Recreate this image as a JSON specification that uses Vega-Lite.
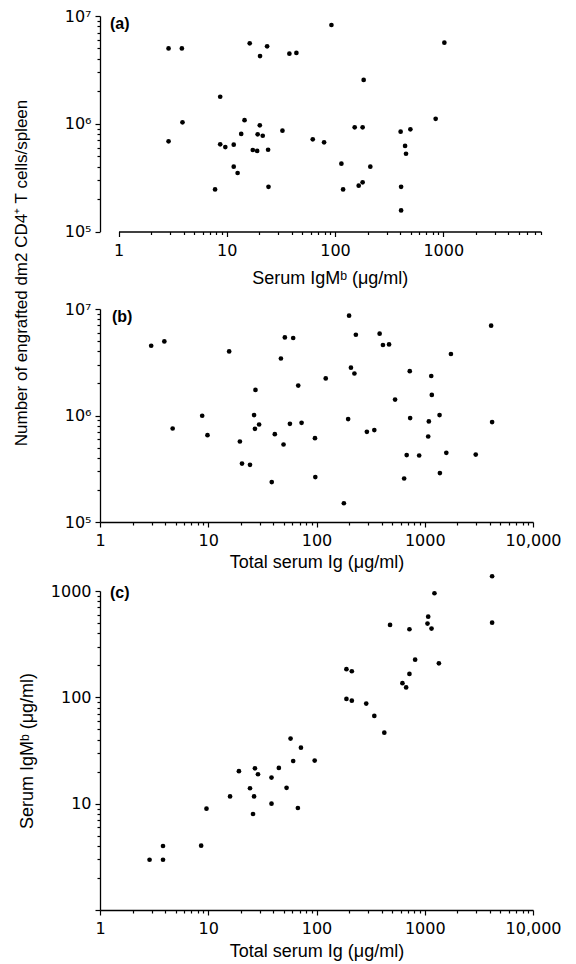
{
  "$schema": "https://vega.github.io/schema/vega-lite/v6.json",
  "background": "white",
  "padding": {"left": 11, "top": 8, "right": 5, "bottom": 5},
  "config": {
    "view": {"stroke": null},
    "font": "Liberation Sans",
    "axis": {
      "grid": false,
      "domainColor": "black",
      "domainWidth": 1.3,
      "tickColor": "black",
      "tickWidth": 1.2,
      "labelColor": "black",
      "titleColor": "black",
      "labelFont": "DejaVu Sans",
      "labelFontSize": 16,
      "titleFont": "Liberation Sans",
      "titleFontSize": 18,
      "titleFontWeight": "normal",
      "labelOverlap": false,
      "labelFlush": false
    },
    "title": {"font": "Liberation Sans", "fontSize": 16, "fontWeight": "bold", "color": "black"}
  },
  "datasets": {
    "a": [
      {"igm": 2.9, "cells": 5000000}, {"igm": 3.85, "cells": 5000000}, {"igm": 16.3, "cells": 5580000},
      {"igm": 23.6, "cells": 5230000}, {"igm": 20.3, "cells": 4250000}, {"igm": 37.9, "cells": 4470000},
      {"igm": 44, "cells": 4540000}, {"igm": 92.7, "cells": 8250000}, {"igm": 1024, "cells": 5650000},
      {"igm": 184, "cells": 2550000}, {"igm": 8.7, "cells": 1780000}, {"igm": 3.9, "cells": 1030000},
      {"igm": 2.9, "cells": 687000}, {"igm": 8.7, "cells": 644000}, {"igm": 9.7, "cells": 608000},
      {"igm": 11.6, "cells": 640000}, {"igm": 14.6, "cells": 1080000}, {"igm": 13.6, "cells": 804000},
      {"igm": 20.2, "cells": 967000}, {"igm": 19.3, "cells": 798000}, {"igm": 21.5, "cells": 774000},
      {"igm": 32.7, "cells": 862000}, {"igm": 17.4, "cells": 571000}, {"igm": 19.1, "cells": 559000},
      {"igm": 24.1, "cells": 574000}, {"igm": 11.6, "cells": 400000}, {"igm": 12.6, "cells": 349000},
      {"igm": 7.8, "cells": 246000}, {"igm": 24.3, "cells": 260000}, {"igm": 62.3, "cells": 717000},
      {"igm": 79.3, "cells": 673000}, {"igm": 114.6, "cells": 426000}, {"igm": 118.8, "cells": 246000},
      {"igm": 152, "cells": 927000}, {"igm": 180, "cells": 927000}, {"igm": 212, "cells": 400000},
      {"igm": 165.5, "cells": 266000}, {"igm": 180, "cells": 286000}, {"igm": 404, "cells": 844000},
      {"igm": 497, "cells": 888000}, {"igm": 444, "cells": 622000}, {"igm": 453, "cells": 527000},
      {"igm": 851, "cells": 1110000}, {"igm": 408, "cells": 260000}, {"igm": 408, "cells": 157000}
    ],
    "b": [
      {"total": 2.97, "cells": 4520000}, {"total": 3.93, "cells": 4960000}, {"total": 4.69, "cells": 755000},
      {"total": 8.79, "cells": 994000}, {"total": 9.84, "cells": 654000}, {"total": 15.6, "cells": 4000000},
      {"total": 19.6, "cells": 570000}, {"total": 20.5, "cells": 354000}, {"total": 24.3, "cells": 344000},
      {"total": 27.3, "cells": 1740000}, {"total": 26.5, "cells": 1010000}, {"total": 27.0, "cells": 750000},
      {"total": 29.5, "cells": 823000}, {"total": 38.6, "cells": 237000}, {"total": 41.2, "cells": 668000},
      {"total": 49.6, "cells": 534000}, {"total": 46.9, "cells": 3430000}, {"total": 51.0, "cells": 5410000},
      {"total": 60.9, "cells": 5340000}, {"total": 56.8, "cells": 836000}, {"total": 67.8, "cells": 1910000},
      {"total": 72.8, "cells": 854000}, {"total": 96.8, "cells": 613000}, {"total": 97.5, "cells": 264000},
      {"total": 121.7, "cells": 2230000}, {"total": 179, "cells": 150000}, {"total": 196, "cells": 925000},
      {"total": 200, "cells": 8650000}, {"total": 208, "cells": 2810000}, {"total": 224, "cells": 2480000},
      {"total": 231, "cells": 5730000}, {"total": 292, "cells": 703000}, {"total": 342, "cells": 729000},
      {"total": 383, "cells": 5860000}, {"total": 411, "cells": 4590000}, {"total": 468, "cells": 4650000},
      {"total": 532, "cells": 1410000}, {"total": 727, "cells": 2610000}, {"total": 733, "cells": 945000},
      {"total": 645, "cells": 256000}, {"total": 681, "cells": 425000}, {"total": 888, "cells": 421000},
      {"total": 1076, "cells": 635000}, {"total": 1091, "cells": 879000}, {"total": 1148, "cells": 2350000},
      {"total": 1162, "cells": 1560000}, {"total": 1370, "cells": 1010000}, {"total": 1380, "cells": 288000},
      {"total": 1582, "cells": 446000}, {"total": 1745, "cells": 3780000}, {"total": 2958, "cells": 430000},
      {"total": 4103, "cells": 6970000}, {"total": 4190, "cells": 867000}
    ],
    "c": [
      {"total": 2.87, "igm": 2.97}, {"total": 3.82, "igm": 2.97}, {"total": 3.82, "igm": 4.0},
      {"total": 8.6, "igm": 4.03}, {"total": 9.63, "igm": 8.97}, {"total": 15.9, "igm": 11.7},
      {"total": 19.2, "igm": 20.2}, {"total": 24.3, "igm": 13.96}, {"total": 26.5, "igm": 11.7},
      {"total": 25.9, "igm": 8.0}, {"total": 27.0, "igm": 21.5}, {"total": 28.8, "igm": 18.9},
      {"total": 38.4, "igm": 17.6}, {"total": 38.4, "igm": 10.0}, {"total": 44.9, "igm": 21.7},
      {"total": 52.9, "igm": 14.1}, {"total": 57.6, "igm": 40.9}, {"total": 60.9, "igm": 25.2},
      {"total": 67.3, "igm": 9.11}, {"total": 71.8, "igm": 33.6}, {"total": 96.2, "igm": 25.4},
      {"total": 189, "igm": 184}, {"total": 212, "igm": 176}, {"total": 189, "igm": 96.6},
      {"total": 212, "igm": 93.1}, {"total": 288, "igm": 87.3}, {"total": 342, "igm": 66.8},
      {"total": 423, "igm": 46.5}, {"total": 478, "igm": 480}, {"total": 722, "igm": 437},
      {"total": 1076, "igm": 574}, {"total": 1060, "igm": 494}, {"total": 1155, "igm": 443},
      {"total": 815, "igm": 226}, {"total": 1351, "igm": 209}, {"total": 722, "igm": 166},
      {"total": 622, "igm": 136}, {"total": 673, "igm": 124}, {"total": 4190, "igm": 504},
      {"total": 1229, "igm": 953}, {"total": 4190, "igm": 1377}
    ]
  },
  "spacing": 69,
  "bounds": "flush",
  "vconcat": [
    {
      "data": {"name": "a"},
      "width": 441,
      "height": 223.3,
      "title": {"text": "(a)", "anchor": "start", "frame": "group", "offset": -24, "dx": 10},
      "mark": {"type": "point", "filled": true, "color": "black", "opacity": 1, "size": 22},
      "encoding": {
        "x": {
          "field": "igm", "type": "quantitative",
          "scale": {"type": "log", "domain": [1, 8000], "nice": false, "range": [18.5, 441]},
          "axis": {
            "title": "Serum IgMᵇ (μg/ml)",
            "offset": -7.8,
            "values": [1,2,3,4,5,6,7,8,9,10,20,30,40,50,60,70,80,90,100,200,300,400,500,600,700,800,900,1000,2000,3000,4000,5000,6000,7000,8000],
            "labelExpr": "datum.value == 1 ? '1' : datum.value == 10 ? '10' : datum.value == 100 ? '100' : datum.value == 1000 ? '1000' : ''",
            "tickSize": {"condition": {"test": "indexof([1,10,100,1000], datum.value) >= 0", "value": 5}, "value": 3},
            "labelPadding": 6,
            "titlePadding": 11
          }
        },
        "y": {
          "field": "cells", "type": "quantitative",
          "scale": {"type": "log", "domain": [100000, 10000000], "nice": false, "range": [215.5, 0]},
          "axis": {
            "title": "Number of engrafted dm2 CD4⁺ T cells/spleen",
            "titleFontSize": 17,
            "titleX": -74,
            "titleY": 256.5,
            "titleBaseline": "alphabetic",
            "values": [100000,200000,300000,400000,500000,600000,700000,800000,900000,1000000,2000000,3000000,4000000,5000000,6000000,7000000,8000000,9000000,10000000],
            "labelExpr": "datum.value == 100000 ? '10⁵' : datum.value == 1000000 ? '10⁶' : datum.value == 10000000 ? '10⁷' : ''",
            "tickSize": {"condition": {"test": "indexof([100000,1000000,10000000], datum.value) >= 0", "value": 5}, "value": 3},
            "labelPadding": 4
          }
        }
      }
    },
    {
      "data": {"name": "b"},
      "width": 433,
      "height": 213,
      "title": {"text": "(b)", "anchor": "start", "frame": "group", "offset": -24, "dx": 12},
      "mark": {"type": "point", "filled": true, "color": "black", "opacity": 1, "size": 22},
      "encoding": {
        "x": {
          "field": "total", "type": "quantitative",
          "scale": {"type": "log", "domain": [1, 10000], "nice": false},
          "axis": {
            "title": "Total serum Ig (μg/ml)",
            "values": [1,2,3,4,5,6,7,8,9,10,20,30,40,50,60,70,80,90,100,200,300,400,500,600,700,800,900,1000,2000,3000,4000,5000,6000,7000,8000,9000,10000],
            "labelExpr": "datum.value == 1 ? '1' : datum.value == 10 ? '10' : datum.value == 100 ? '100' : datum.value == 1000 ? '1000' : datum.value == 10000 ? '10,000' : ''",
            "tickSize": {"condition": {"test": "indexof([1,10,100,1000,10000], datum.value) >= 0", "value": 5}, "value": 3},
            "labelPadding": 5,
            "titlePadding": 5.5
          }
        },
        "y": {
          "field": "cells", "type": "quantitative",
          "scale": {"type": "log", "domain": [100000, 10000000], "nice": false},
          "axis": {
            "title": null,
            "values": [100000,200000,300000,400000,500000,600000,700000,800000,900000,1000000,2000000,3000000,4000000,5000000,6000000,7000000,8000000,9000000,10000000],
            "labelExpr": "datum.value == 100000 ? '10⁵' : datum.value == 1000000 ? '10⁶' : datum.value == 10000000 ? '10⁷' : ''",
            "tickSize": {"condition": {"test": "indexof([100000,1000000,10000000], datum.value) >= 0", "value": 5}, "value": 3},
            "labelPadding": 4
          }
        }
      }
    },
    {
      "data": {"name": "c"},
      "width": 433,
      "height": 319,
      "title": {"text": "(c)", "anchor": "start", "frame": "group", "offset": -27, "dx": 10},
      "mark": {"type": "point", "filled": true, "color": "black", "opacity": 1, "size": 22},
      "encoding": {
        "x": {
          "field": "total", "type": "quantitative",
          "scale": {"type": "log", "domain": [1, 10000], "nice": false},
          "axis": {
            "title": "Total serum Ig (μg/ml)",
            "values": [1,2,3,4,5,6,7,8,9,10,20,30,40,50,60,70,80,90,100,200,300,400,500,600,700,800,900,1000,2000,3000,4000,5000,6000,7000,8000,9000,10000],
            "labelExpr": "datum.value == 1 ? '1' : datum.value == 10 ? '10' : datum.value == 100 ? '100' : datum.value == 1000 ? '1000' : datum.value == 10000 ? '10,000' : ''",
            "tickSize": {"condition": {"test": "indexof([1,10,100,1000,10000], datum.value) >= 0", "value": 5}, "value": 3},
            "labelPadding": 5,
            "titlePadding": 6
          }
        },
        "y": {
          "field": "igm", "type": "quantitative",
          "scale": {"type": "log", "domain": [1, 1000], "nice": false},
          "axis": {
            "title": "Serum IgMᵇ (μg/ml)",
            "titleX": -68,
            "titleBaseline": "alphabetic",
            "values": [1,2,3,4,5,6,7,8,9,10,20,30,40,50,60,70,80,90,100,200,300,400,500,600,700,800,900,1000],
            "labelExpr": "datum.value == 10 ? '10' : datum.value == 100 ? '100' : datum.value == 1000 ? '1000' : ''",
            "tickSize": {"condition": {"test": "indexof([1,10,100,1000], datum.value) >= 0", "value": 5}, "value": 3},
            "labelPadding": 4
          }
        }
      }
    }
  ]
}
